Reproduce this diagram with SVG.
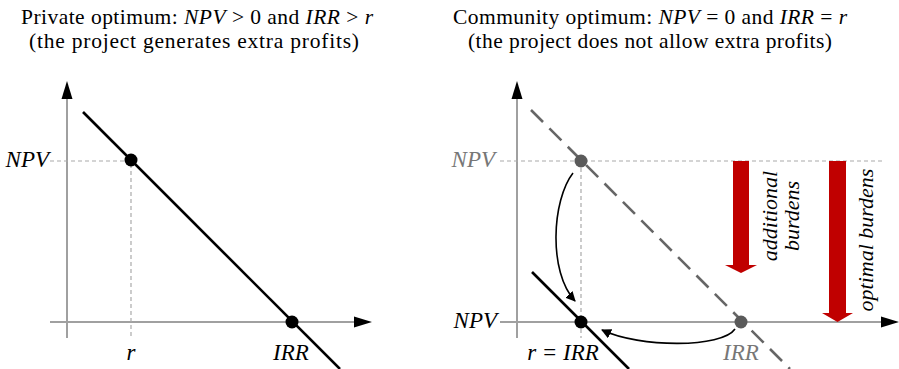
<svg xmlns="http://www.w3.org/2000/svg" width="899" height="369" viewBox="0 0 899 369">
<defs>
<style>
.title{font-family:"Liberation Serif","Times New Roman",serif;font-size:21.5px;fill:#000;text-anchor:middle}
.it{font-style:italic}
.lbl{font-family:"Liberation Serif","Times New Roman",serif;font-style:italic;font-size:23px}
.rot{font-family:"Liberation Serif","Times New Roman",serif;font-style:italic;font-size:22px}
.axis{stroke:#a0a0a0;stroke-width:2;fill:none}
.guide{stroke:#aaa;stroke-width:1.2;stroke-dasharray:4 3;fill:none}
.head{fill:#000}
.curve{stroke:#000;stroke-width:1.6;fill:none}
.burden{fill:#c00000}
</style>
<marker id="ah" viewBox="0 0 10 10" refX="9" refY="5" markerWidth="10" markerHeight="10" markerUnits="userSpaceOnUse" orient="auto">
<path d="M0,0 L10,5 L0,10 z" fill="#000"/>
</marker>
</defs>
<rect width="899" height="369" fill="#fff"/>

<g id="titles">
<text class="title" x="197" y="24" textLength="352">Private optimum: <tspan class="it">NPV</tspan> &gt; 0 and <tspan class="it">IRR</tspan> &gt; <tspan class="it">r</tspan></text>
<text class="title" x="194" y="48" textLength="330">(the project generates extra profits)</text>
<text class="title" x="650" y="24" textLength="394">Community optimum: <tspan class="it">NPV</tspan> = 0 and <tspan class="it">IRR</tspan> = <tspan class="it">r</tspan></text>
<text class="title" x="650" y="48" textLength="364">(the project does not allow extra profits)</text>
</g>

<g id="left-axes">
<line class="axis" x1="67" y1="96" x2="67" y2="338"/>
<line class="axis" x1="50" y1="322" x2="356" y2="322"/>
<polygon class="head" points="67,81 61.5,99 72.5,99"/>
<polygon class="head" points="372,322 354,316.5 354,327.5"/>
</g>
<g id="left-guides">
<polyline class="guide" points="50,161 131,161 131,338"/>
</g>
<g id="left-line">
<line x1="83" y1="112" x2="340" y2="369" stroke="#000" stroke-width="2.6"/>
</g>
<g id="left-point-npv"><circle cx="131" cy="160" r="6.5" fill="#000"/></g>
<g id="left-point-irr"><circle cx="292" cy="322" r="6.5" fill="#000"/></g>
<g id="left-labels">
<text class="lbl" x="49" y="167" text-anchor="end">NPV</text>
<text class="lbl" x="131" y="360" text-anchor="middle">r</text>
<text class="lbl" x="291" y="360" text-anchor="middle">IRR</text>
</g>

<g id="right-axes">
<line class="axis" x1="517" y1="96" x2="517" y2="338"/>
<line class="axis" x1="500" y1="322" x2="884" y2="322"/>
<polygon class="head" points="517,81 511.5,99 522.5,99"/>
<polygon class="head" points="899,322 881,316.5 881,327.5"/>
</g>
<g id="right-guides">
<line class="guide" x1="500" y1="161" x2="884" y2="161"/>
<line class="guide" x1="581" y1="161" x2="581" y2="338"/>
</g>
<g id="right-dashed-line">
<line x1="531" y1="110" x2="790" y2="369" stroke="#666" stroke-width="2.6" stroke-dasharray="17 9"/>
</g>
<g id="right-solid-line">
<line x1="532" y1="272" x2="629" y2="369" stroke="#000" stroke-width="2.6"/>
</g>
<g id="burden-additional">
<polygon class="burden" points="733,161 749,161 749,265 757,265 741,273 725,265 733,265"/>
<text class="rot" transform="translate(777,216) rotate(-90)" text-anchor="middle">additional</text>
<text class="rot" transform="translate(799,216) rotate(-90)" text-anchor="middle">burdens</text>
</g>
<g id="burden-optimal">
<polygon class="burden" points="829,161 846,161 846,313 853,313 837.5,322 822,313 829,313"/>
<text class="rot" transform="translate(873,240) rotate(-90)" text-anchor="middle">optimal burdens</text>
</g>
<g id="connectors">
<path class="curve" d="M573,173 C552,200 548,272 575,301" marker-end="url(#ah)"/>
<path class="curve" d="M735,329 C722,348 640,348 602,330" marker-end="url(#ah)"/>
</g>
<g id="right-point-npv-old"><circle cx="581" cy="161" r="6.5" fill="#5a5a5a"/></g>
<g id="right-point-irr-old"><circle cx="741" cy="322" r="6.5" fill="#5a5a5a"/></g>
<g id="right-point-opt"><circle cx="581" cy="322" r="6.5" fill="#000"/></g>
<g id="right-labels">
<text class="lbl" x="495" y="167" text-anchor="end" fill="#777">NPV</text>
<text class="lbl" x="497" y="328" text-anchor="end">NPV</text>
<text class="lbl" x="563" y="360" text-anchor="middle">r = IRR</text>
<text class="lbl" x="741" y="360" text-anchor="middle" fill="#777">IRR</text>
</g>
</svg>
